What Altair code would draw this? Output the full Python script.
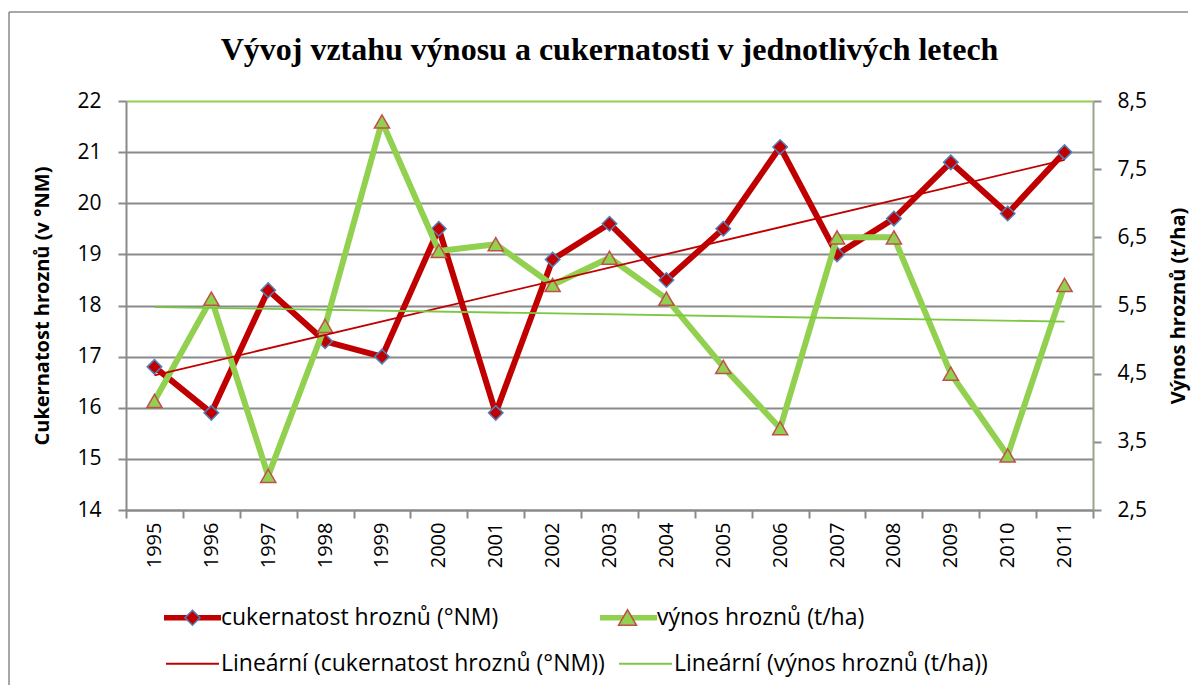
import altair as alt
import pandas as pd

# ---------------- data ----------------
roky = [1995, 1996, 1997, 1998, 1999, 2000, 2001, 2002, 2003,
        2004, 2005, 2006, 2007, 2008, 2009, 2010, 2011]
cukernatost = [16.8, 15.9, 18.3, 17.3, 17.0, 19.5, 15.9, 18.9, 19.6,
               18.5, 19.5, 21.1, 19.0, 19.7, 20.8, 19.8, 21.0]
vynos = [4.1, 5.6, 3.0, 5.2, 8.2, 6.3, 6.4, 5.8, 6.2,
         5.6, 4.6, 3.7, 6.5, 6.5, 4.5, 3.3, 5.8]

left_ticks = [14, 15, 16, 17, 18, 19, 20, 21, 22]
right_ticks = [2.5, 3.5, 4.5, 5.5, 6.5, 7.5, 8.5]

series_names = ["cukernatost hroznů (°NM)", "výnos hroznů (t/ha)"]
trend_names = ["Lineární (cukernatost hroznů (°NM))", "Lineární (výnos hroznů (t/ha))"]

title_text = "Vývoj vztahu výnosu a cukernatosti v jednotlivých letech"
left_title = "Cukernatost hroznů (v °NM)"
right_title = "Výnos hroznů (t/ha)"

data = pd.DataFrame({"rok": roky, "cukernatost": cukernatost, "vynos": vynos})
legend_series_df = pd.DataFrame({"s": series_names})
legend_trend_df = pd.DataFrame({"s": trend_names})
marker1_df = pd.DataFrame({"m": ["d"]})
marker2_df = pd.DataFrame({"m": ["t"]})
frame_df = pd.DataFrame({"f": [0]})

# ---------------- styles ----------------
FONT = "Open Sans"
RED = "#C00000"
GREEN = "#92D050"
GREEN_TREND = "#7CC843"
BLUE = "#4F81BD"
TRI_EDGE = "#C0504D"
GRID = "#8A8A8A"
RIGHT_AXIS = "#98A68C"

x_enc = alt.X(
    "rok:O",
    scale=alt.Scale(type="band", paddingInner=0, paddingOuter=0),
    axis=alt.Axis(title=None, labelAngle=-90, labelFont=FONT, labelFontSize=20,
                  labelColor="black", labelPadding=4, tickBand="extent", tickSize=8,
                  tickColor=GRID, tickWidth=2, domainColor=GRID, domainWidth=2,
                  grid=False),
)

y_left = alt.Y(
    "cukernatost:Q",
    scale=alt.Scale(domain=[14, 22], nice=False, zero=False),
    axis=alt.Axis(orient="left", values=left_ticks, title=left_title, titleFont=FONT,
                  titleFontSize=20, titleFontWeight="bold", titleColor="black",
                  titlePadding=24, labelFont=FONT, labelFontSize=21, labelColor="black",
                  labelPadding=17, tickSize=8, tickColor=GRID, tickWidth=2,
                  domainColor=GRID, domainWidth=2, grid=True, gridWidth=2,
                  gridColor={"condition": {"test": "datum.value === 22", "value": GREEN},
                             "value": GRID}),
)

y_right = alt.Y(
    "vynos:Q",
    scale=alt.Scale(domain=[2.5, 8.5], nice=False, zero=False),
    axis=alt.Axis(orient="right", values=right_ticks, title=right_title, titleFont=FONT,
                  titleFontSize=20, titleFontWeight="bold", titleColor="black",
                  titleAngle=270, titlePadding=42, labelFont=FONT, labelFontSize=21,
                  labelColor="black", labelPadding=16, tickSize=8, tickColor=GRID,
                  tickWidth=2, domainColor=RIGHT_AXIS, domainWidth=2, grid=False,
                  labelExpr="replace(format(datum.value, '.1f'), '.', ',')"),
)

red_line = alt.Chart(data).mark_line(color=RED, strokeWidth=6, strokeJoin="round").encode(
    x=x_enc, y=y_left)
diamonds = alt.Chart(data).mark_point(shape="diamond", filled=True, fill=RED, stroke=BLUE,
                                      strokeWidth=1.5, size=210, opacity=1).encode(x=x_enc, y=y_left)

green_line = alt.Chart(data).mark_line(color=GREEN, strokeWidth=6, strokeJoin="round").encode(
    x=x_enc, y=y_right)
triangles = alt.Chart(data).mark_point(shape="triangle-up", filled=True, fill=GREEN,
                                       stroke=TRI_EDGE, strokeWidth=1.5, size=230,
                                       opacity=1).encode(x=x_enc, y=y_right)

red_trend = alt.Chart(data).transform_regression("rok", "cukernatost").mark_line(
    color=RED, strokeWidth=1.8).encode(
    x=x_enc,
    y=alt.Y("cukernatost:Q", scale=alt.Scale(domain=[14, 22], nice=False, zero=False), axis=None))
green_trend = alt.Chart(data).transform_regression("rok", "vynos").mark_line(
    color=GREEN_TREND, strokeWidth=1.8).encode(
    x=x_enc,
    y=alt.Y("vynos:Q", scale=alt.Scale(domain=[2.5, 8.5], nice=False, zero=False), axis=None))

# ---------------- legend ----------------
THICK = "M-2.85,-0.28L2.85,-0.28L2.85,0.28L-2.85,0.28Z"
THIN = "M-2.65,-0.09L2.65,-0.09L2.65,0.09L-2.65,0.09Z"
DIAMOND = "M0,-0.75L0.75,0L0,0.75L-0.75,0Z"
TRIANGLE = "M0,-0.8L0.9,0.75L-0.9,0.75Z"

LEG_X = 55
ROW1_Y = 505
ROW2_Y = 551
base_legend = dict(orient="none", direction="horizontal", columns=2,
                   symbolSize=400, labelOffset=17, labelFont=FONT, labelFontSize=23,
                   labelLimit=600, title=None, padding=0, symbolOpacity=1)

legend_series = alt.Legend(legendX=LEG_X, legendY=ROW1_Y, columnPadding=101, symbolType=THICK,
                           symbolStrokeWidth=0, labelColor="black", **base_legend)
legend_trend = alt.Legend(legendX=LEG_X, legendY=ROW2_Y, columnPadding=14, symbolType=THIN,
                          symbolStrokeWidth=0, labelColor="black", **base_legend)
legend_diamond = alt.Legend(legendX=LEG_X, legendY=ROW1_Y, symbolStrokeWidth=1.5,
                            labelExpr="''", **base_legend)
legend_triangle = alt.Legend(legendX=490, legendY=ROW1_Y, symbolStrokeWidth=1.5,
                             labelExpr="''", **base_legend)

carrier_series = alt.Chart(legend_series_df).mark_point(filled=True, opacity=0).encode(
    color=alt.Color("s:N", scale=alt.Scale(domain=series_names, range=[RED, GREEN]),
                    legend=legend_series))
carrier_trend = alt.Chart(legend_trend_df).mark_point(filled=True, opacity=0).encode(
    color=alt.Color("s:N", scale=alt.Scale(domain=trend_names, range=[RED, GREEN_TREND]),
                    legend=legend_trend))
carrier_diamond = alt.Chart(marker1_df).mark_point(filled=True, opacity=0).encode(
    fill=alt.Fill("m:N", scale=alt.Scale(domain=["d"], range=[RED]), legend=legend_diamond),
    stroke=alt.Stroke("m:N", scale=alt.Scale(domain=["d"], range=[BLUE]), legend=legend_diamond),
    shape=alt.Shape("m:N", scale=alt.Scale(domain=["d"], range=[DIAMOND]), legend=legend_diamond))
carrier_triangle = alt.Chart(marker2_df).mark_point(filled=True, opacity=0).encode(
    fill=alt.Fill("m:N", scale=alt.Scale(domain=["t"], range=[GREEN]), legend=legend_triangle),
    stroke=alt.Stroke("m:N", scale=alt.Scale(domain=["t"], range=[TRI_EDGE]), legend=legend_triangle),
    shape=alt.Shape("m:N", scale=alt.Scale(domain=["t"], range=[TRIANGLE]), legend=legend_triangle))

# ---------------- outer frame (chart area border) ----------------
frame_top = alt.Chart(frame_df).mark_rule(color=GRID, strokeWidth=1.5).encode(
    x=alt.value(-117), x2=alt.value(1062), y=alt.value(-89))
frame_left = alt.Chart(frame_df).mark_rule(color=GRID, strokeWidth=1.5).encode(
    x=alt.value(-117), y=alt.value(-89), y2=alt.value(584))

chart = alt.layer(
    frame_top, frame_left,
    alt.layer(red_line, diamonds),
    alt.layer(green_line, triangles),
    red_trend, green_trend,
    carrier_series, carrier_trend, carrier_diamond, carrier_triangle,
).resolve_scale(
    y="independent", color="independent", fill="independent",
    stroke="independent", shape="independent",
).properties(
    width=967, height=409,
    padding={"left": 0, "top": 3, "right": 6, "bottom": 0},
    title=alt.TitleParams(title_text, font="Liberation Serif", fontSize=32, fontWeight="bold",
                          color="black", anchor="middle", frame="group", offset=-56),
).configure_view(strokeWidth=0)

chart.save("out.html", embed_options={"renderer": "svg", "actions": False})
